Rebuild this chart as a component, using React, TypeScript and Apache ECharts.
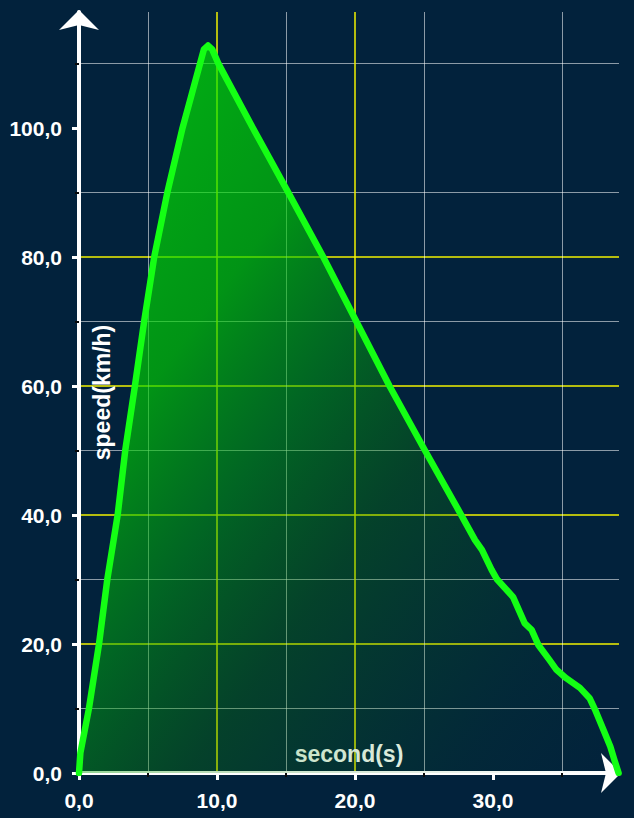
import React, { useEffect, useRef } from 'react';
import * as echarts from 'echarts';

// time in seconds
const seconds = [
  0, 0.1, 0.72, 1.45, 2.05, 2.8, 3.35, 4.05, 4.72, 5.45, 6.4, 7.5, 8.2, 8.77, 9.05, 9.35, 9.65,
  10.1, 12.6, 15.17, 17.7, 20.1, 22.5, 25.07, 27.7, 28.7, 29.2, 29.9, 30.3, 31.45, 32.3,
  32.8, 33.3, 34.1, 34.6, 35.3, 36.3, 37.0, 37.4, 38.0, 38.5, 38.8, 39.1,
];
// speed in km/h
const speeds = [
  0, 3.1, 10, 20, 30, 40, 50, 60, 70, 80, 90, 100, 105.5, 110, 112.2, 112.8, 112.2,
  110, 100, 90, 80, 70, 60, 50, 40, 36.1, 34.6, 31.5, 30, 27.3, 23.2,
  22.2, 19.8, 17.5, 16, 14.7, 13.2, 11.6, 9.8, 6.7, 4.1, 2, 0,
];
const xTickValues = [0, 10, 20, 30];
const yTickValues = [0, 20, 40, 60, 80, 100];

const FONT = '"Liberation Sans", Arial, Helvetica, sans-serif';
const fmt = (v: number) => v.toFixed(1).replace('.', ',');

export default function App() {
  const ref = useRef<HTMLDivElement>(null);
  useEffect(() => {
    if (!ref.current) return;
    const chart = echarts.init(ref.current, null, { renderer: 'svg' });
    const labelStyle = {
      color: '#ffffff',
      fontSize: 21,
      fontWeight: 'bold' as const,
      fontFamily: FONT,
      margin: 17,
      formatter: fmt,
    };
    const nameStyle = { color: '#ffffff', fontSize: 23, fontWeight: 'bold' as const, fontFamily: FONT };
    const axisLine = {
      show: true,
      onZero: false,
      symbol: ['none', 'arrow'],
      symbolSize: [30, 20],
      symbolOffset: [0, 2],
      lineStyle: { color: '#ffffff', width: 4 },
    };
    const splitLine = { show: true, showMaxLine: false, showMinLine: false, lineStyle: { color: '#f2f200', width: 1.5 } };
    const minorSplitLine = { show: true, lineStyle: { color: 'rgba(255,255,255,0.55)', width: 1 } };
    const minorTick = { show: true, splitNumber: 2, length: 4, lineStyle: { color: '#0a0a0a', width: 2 } };
    const axisTick = (vals: number[]) => ({
      show: true,
      length: 7,
      lineStyle: { color: '#ffffff', width: 3 },
      customValues: vals,
    });

    chart.setOption({
      animation: false,
      backgroundColor: '#02223c',
      grid: { left: 79, right: 15, top: 12, bottom: 45, containLabel: false },
      xAxis: {
        type: 'value',
        min: 0,
        max: 39.13,
        interval: 10,
        name: 'second(s)',
        nameLocation: 'middle',
        nameGap: -31,
        nameTextStyle: nameStyle,
        axisLine,
        axisTick: axisTick(xTickValues),
        minorTick,
        axisLabel: { ...labelStyle, customValues: xTickValues },
        splitLine,
        minorSplitLine,
      },
      yAxis: {
        type: 'value',
        min: 0,
        max: 118,
        interval: 20,
        name: 'speed(km/h)',
        nameLocation: 'middle',
        nameRotate: 90,
        nameGap: -34,
        nameTextStyle: nameStyle,
        axisLine,
        axisTick: axisTick(yTickValues),
        minorTick,
        axisLabel: { ...labelStyle, customValues: yTickValues },
        splitLine,
        minorSplitLine,
      },
      series: [
        {
          type: 'line',
          data: seconds.map((s, i) => [s, speeds[i]]),
          showSymbol: false,
          smooth: false,
          z: 3,
          lineStyle: { color: '#14ff14', width: 6.5, cap: 'round', join: 'round' },
          areaStyle: {
            color: new echarts.graphic.LinearGradient(0, 0, 1, 1, [
              { offset: 0, color: 'rgba(0,250,0,1)' },
              { offset: 0.3, color: 'rgba(0,210,0,0.92)' },
              { offset: 0.45, color: 'rgba(0,170,10,0.7)' },
              { offset: 0.6, color: 'rgba(10,140,0,0.42)' },
              { offset: 0.85, color: 'rgba(10,110,20,0.12)' },
              { offset: 1, color: 'rgba(10,100,20,0)' },
            ]),
          },
        },
      ],
    });
    return () => chart.dispose();
  }, []);
  return <div ref={ref} style={{ position: 'fixed', left: 0, top: 0, width: 634, height: 818 }} />;
}
